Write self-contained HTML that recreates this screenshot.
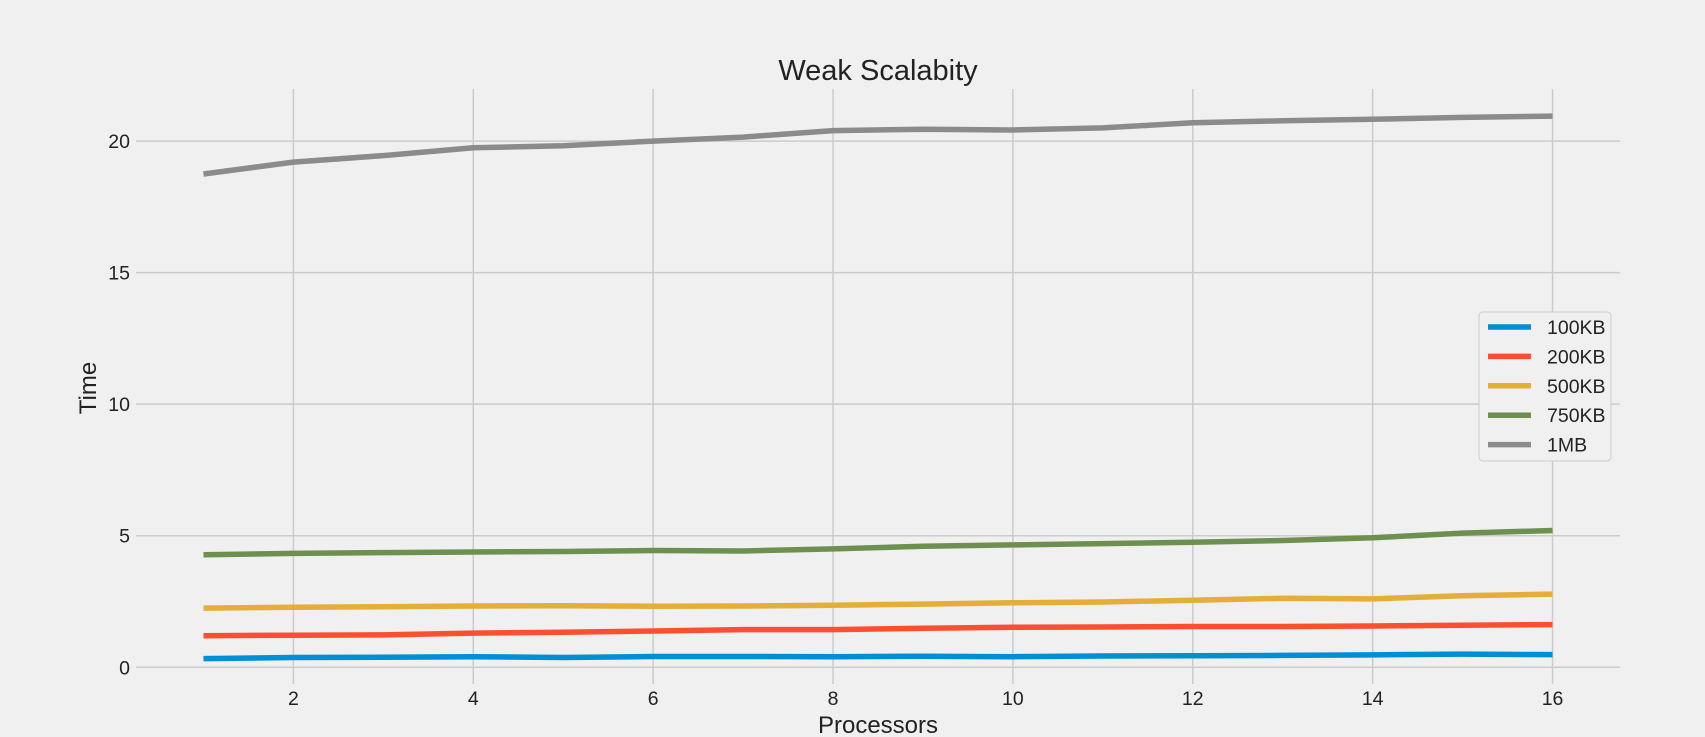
<!DOCTYPE html>
<html><head><meta charset="utf-8"><style>
html,body{margin:0;padding:0;background:#f0f0f0;}
svg{display:block;font-family:"Liberation Sans","DejaVu Sans",sans-serif;}
</style></head><body>
<svg id="chart" width="1705" height="737">
<rect width="1705" height="737" fill="#f0f0f0"/>
<g id="grid"></g><g id="ticks"></g><g id="lines"></g>
<text x="878" y="80" text-anchor="middle" font-size="29" fill="#222">Weak Scalabity</text>
<text x="878" y="733" text-anchor="middle" font-size="24" fill="#222">Processors</text>
<text transform="translate(96,388) rotate(-90)" text-anchor="middle" font-size="24" fill="#222">Time</text>
<g id="legend"></g>
</svg>
<script>
const processors=[1,2,3,4,5,6,7,8,9,10,11,12,13,14,15,16];
const seriesNames=["100KB","200KB","500KB","750KB","1MB"];
const s100KB=[0.33,0.37,0.38,0.40,0.37,0.41,0.41,0.40,0.42,0.40,0.43,0.44,0.45,0.47,0.50,0.48];
const s200KB=[1.20,1.22,1.23,1.30,1.33,1.38,1.43,1.43,1.48,1.52,1.53,1.55,1.55,1.57,1.60,1.62];
const s500KB=[2.25,2.28,2.30,2.33,2.34,2.32,2.33,2.36,2.40,2.45,2.48,2.55,2.62,2.60,2.72,2.78];
const s750KB=[4.28,4.33,4.36,4.38,4.40,4.44,4.42,4.50,4.60,4.65,4.70,4.75,4.82,4.92,5.10,5.20];
const s1MB=[18.75,19.2,19.45,19.75,19.82,20.0,20.15,20.4,20.45,20.42,20.5,20.7,20.77,20.83,20.9,20.95];
const xTicks=[2,4,6,8,10,12,14,16];
const yTicks=[0,5,10,15,20];
const colors=["#008fd5","#fc4f30","#e5ae38","#6d904f","#8b8b8b"];
const allSeries=[s100KB,s200KB,s500KB,s750KB,s1MB];
const NS="http://www.w3.org/2000/svg";
const L=136,R=1620,T=89,B=687;
const xMin=0.25,xMax=16.75,yMin=-0.75,yMax=21.98;
const xs=v=>L+(v-xMin)/(xMax-xMin)*(R-L);
const ys=v=>B-(v-yMin)/(yMax-yMin)*(B-T);
function mk(tag,attrs,parent){const e=document.createElementNS(NS,tag);for(const k in attrs)e.setAttribute(k,attrs[k]);parent.appendChild(e);return e;}
const grid=document.getElementById('grid'),ticks=document.getElementById('ticks'),lines=document.getElementById('lines'),legend=document.getElementById('legend');
xTicks.forEach(t=>{
 const g=mk('line',{x1:xs(t),x2:xs(t),y1:T,y2:B-3,stroke:'#cbcbcb','stroke-width':1.5},grid);
 
 
 const tx=mk('text',{x:xs(t),y:705,'text-anchor':'middle','font-size':19.5,fill:'#222'},ticks);
 tx.textContent=t;
 
 
});
yTicks.forEach(t=>{
 const g=mk('line',{x1:L,x2:R,y1:ys(t),y2:ys(t),stroke:'#cbcbcb','stroke-width':1.5},grid);
 
 
 const tx=mk('text',{x:130,y:ys(t)+7,'text-anchor':'end','font-size':19.5,fill:'#222'},ticks);
 tx.textContent=t;
 
 
});
allSeries.forEach((s,i)=>{
 const d=s.map((v,j)=>(j?'L':'M')+xs(processors[j]).toFixed(1)+','+ys(v).toFixed(1)).join(' ');
 const p=mk('path',{d:d,fill:'none',stroke:colors[i],'stroke-width':5.5,'stroke-linejoin':'round'},lines);
 
 
});
const box=mk('rect',{x:1479,y:312,width:132,height:149,rx:4,fill:'#f0f0f0',stroke:'#cbcbcb','stroke-width':1},legend);


seriesNames.forEach((n,i)=>{
 const y=327+i*29.4;
 const ln=mk('line',{x1:1488,x2:1531,y1:y,y2:y,stroke:colors[i],'stroke-width':5.5},legend);
 
 
 const tx=mk('text',{x:1547,y:y+7,'font-size':19.5,fill:'#222'},legend);
 tx.textContent=n;
 
 
});
</script>
</body></html>
